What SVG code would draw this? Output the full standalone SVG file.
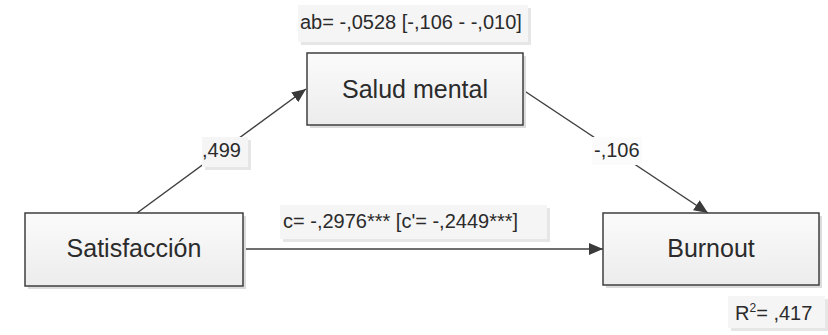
<svg xmlns="http://www.w3.org/2000/svg" width="828" height="335" viewBox="0 0 828 335">
<style>
.node{fill:url(#g);stroke:#3f3f3f;stroke-width:1.5}
.shadow{fill:#dcdcdc}
.nt{font-family:"Liberation Sans",Arial,sans-serif;font-size:25px;fill:#2b2b2b;text-anchor:middle}
.lt{font-family:"Liberation Sans",Arial,sans-serif;font-size:20px;fill:#2b2b2b}
.lb{fill:#f5f5f5}
.lbs{fill:#e6e6e6}
.edge{stroke:#3f3f3f;stroke-width:1.5;fill:none}
</style>
<defs>
<linearGradient id="g" x1="0" y1="0" x2="0" y2="1">
<stop offset="0" stop-color="#fbfbfb"/>
<stop offset="1" stop-color="#ececec"/>
</linearGradient>
<marker id="arr" viewBox="0 0 14 12" refX="14" refY="6" markerWidth="14" markerHeight="12" markerUnits="userSpaceOnUse" orient="auto">
<path d="M0,0 L14,6 L0,12 Z" fill="#3a3a3a"/>
</marker>
</defs>
<rect width="828" height="335" fill="#ffffff"/>
<g id="connectors">
<line class="edge" x1="137" y1="213" x2="306" y2="89" marker-end="url(#arr)"/>
<line class="edge" x1="523" y1="90" x2="708" y2="213" marker-end="url(#arr)"/>
<line class="edge" x1="243" y1="249" x2="603" y2="249" marker-end="url(#arr)"/>
</g>
<g id="label-ab">
<rect class="lbs" x="301" y="8" width="230" height="37"/>
<rect class="lb" x="298" y="5" width="230" height="37"/>
<text class="lt" x="300" y="29">ab= -,0528 [-,106 - -,010]</text>
</g>
<g id="label-a">
<rect class="lbs" x="205" y="140" width="46" height="30"/>
<rect class="lb" x="202" y="137" width="46" height="30"/>
<text class="lt" x="202" y="157">,499</text>
</g>
<g id="label-b">
<rect fill="#fbfbfb" x="592" y="137" width="50" height="28"/>
<text class="lt" x="594" y="157">-,106</text>
</g>
<g id="label-c">
<rect class="lbs" x="283" y="208" width="267" height="34"/>
<rect class="lb" x="280" y="205" width="267" height="34"/>
<text class="lt" x="283" y="228">c= -,2976*** [c'= -,2449***]</text>
</g>
<g id="label-r2">
<rect class="lbs" x="731" y="299" width="97" height="32"/>
<rect class="lb" x="728" y="296" width="97" height="32"/>
<text class="lt" x="735" y="320">R<tspan font-size="12" dy="-8">2</tspan><tspan dy="8">= ,417</tspan></text>
</g>
<g id="node-salud">
<rect class="shadow" x="310" y="56" width="216" height="72"/>
<rect class="node" x="307" y="53" width="216" height="72"/>
<text class="nt" x="415" y="98">Salud mental</text>
</g>
<g id="node-satisfaccion">
<rect class="shadow" x="28" y="216" width="218" height="73"/>
<rect class="node" x="25" y="213" width="218" height="73"/>
<text class="nt" x="134" y="257">Satisfacción</text>
</g>
<g id="node-burnout">
<rect class="shadow" x="606" y="216" width="216" height="72"/>
<rect class="node" x="603" y="213" width="216" height="72"/>
<text class="nt" x="711" y="257">Burnout</text>
</g>
</svg>
